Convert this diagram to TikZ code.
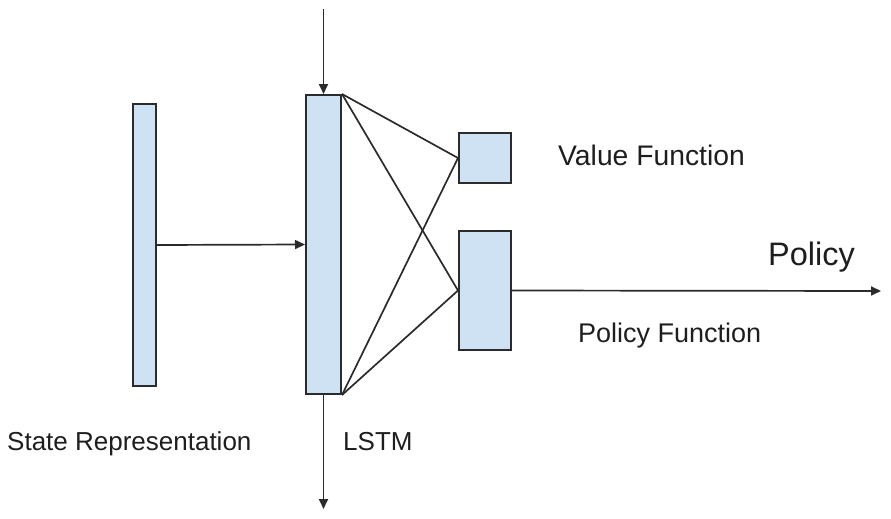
\documentclass[tikz,border=0pt]{standalone}
\usepackage{fontspec}
\setmainfont{Liberation Sans}
\usetikzlibrary{arrows.meta}
\definecolor{boxfill}{HTML}{CFE2F3}
\definecolor{edge}{HTML}{2B2B2B}
\definecolor{txt}{HTML}{1E1E1E}
\begin{document}
\begin{tikzpicture}[x=1pt,y=-1pt,
  blk/.style={draw=edge,fill=boxfill,line width=2pt,inner sep=0pt,rectangle},
  conn/.style={draw=edge,line width=1.7pt},
  arr/.style={conn,-{Triangle[length=10pt,width=9pt]}},
  lbl/.style={text=txt,inner sep=0pt,anchor=base west}]
\useasboundingbox (0,0) rectangle (891,519);
\node[blk,minimum width=23pt,minimum height=282pt] (state) at (144.5,245) {};
\node[blk,minimum width=35pt,minimum height=299pt] (lstm) at (323.5,244.5) {};
\node[blk,minimum width=52pt,minimum height=50pt] (value) at (485,158) {};
\node[blk,minimum width=52pt,minimum height=119pt] (policy) at (485,290.5) {};
\coordinate (topin) at (323.5,9);
\coordinate (botout) at (323.5,509);
\coordinate (polout) at (881,291);
\draw[arr] (state.east) -- (lstm.west);
\draw[arr] (topin) -- (lstm.north);
\draw[arr] (lstm.south) -- (botout);
\draw[arr] (policy.east) -- (polout);
\draw[conn] (lstm.north east) -- (value.west);
\draw[conn] (lstm.north east) -- (policy.west);
\draw[conn] (lstm.south east) -- (value.west);
\draw[conn] (lstm.south east) -- (policy.west);
\node[lbl,font=\fontsize{26}{30}\selectfont] (statelbl) at (7,450) {State Representation};
\node[lbl,font=\fontsize{26}{30}\selectfont] (lstmlbl) at (343,450) {LSTM};
\node[lbl,font=\fontsize{28.3}{32}\selectfont] (valuelbl) at (558,165) {Value Function};
\node[lbl,font=\fontsize{27}{32}\selectfont] (policylbl) at (578,342) {Policy Function};
\node[lbl,font=\fontsize{32.5}{38}\selectfont] (policyout) at (768,265) {Policy};
\end{tikzpicture}
\end{document}
